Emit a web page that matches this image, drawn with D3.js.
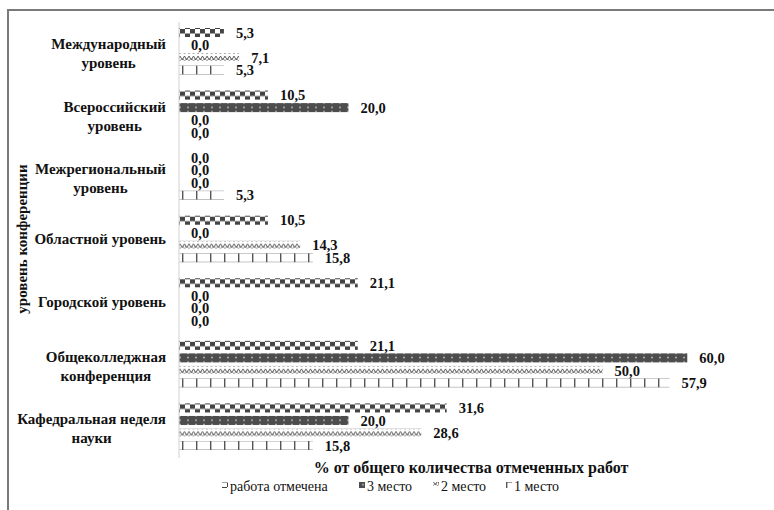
<!DOCTYPE html>
<html>
<head>
<meta charset="utf-8">
<script src="https://cdn.jsdelivr.net/npm/d3@7"></script>
<style>
  body { margin: 0; background: #fff; }
  svg text { font-family: "Liberation Serif", "Times New Roman", serif; fill: #111; }
</style>
</head>
<body>
<div id="chart"></div>
<script>
// Data
const categories = [
  ['Международный', 'уровень'],
  ['Всероссийский', 'уровень'],
  ['Межрегиональный', 'уровень'],
  ['Областной уровень'],
  ['Городской уровень'],
  ['Общеколледжная', 'конференция'],
  ['Кафедральная неделя', 'науки']
]
const seriesNames = ['работа отмечена', '3 место', '2 место', '1 место']
const noted  = [5.3, 10.5, 0.0, 10.5, 21.1, 21.1, 31.6]
const third  = [0.0, 20.0, 0.0, 0.0, 0.0, 60.0, 20.0]
const second = [7.1, 0.0, 0.0, 14.3, 0.0, 50.0, 28.6]
const first  = [5.3, 0.0, 5.3, 15.8, 0.0, 57.9, 15.8]
const xMax = 70

const values = [noted, third, second, first]
const catKeys = categories.map(c => c.join(' '))

// Canvas
const width = 774,
      height = 510,
      plotLeft = 179,
      plotRight = 772,
      plotTop = 20,
      plotBottom = 458

let svg = d3.select('#chart')
  .append('svg')
  .attr('width', width)
  .attr('height', height)

// patterns
let defs = svg.append('defs')

let p0 = defs.append('pattern').attr('id', 'pat0')
  .attr('patternUnits', 'userSpaceOnUse').attr('width', 10).attr('height', 9)
p0.append('rect').attr('width', 10).attr('height', 9).attr('fill', '#fff')
p0.append('rect').attr('x', 0).attr('y', 0).attr('width', 5).attr('height', 4.5).attr('fill', '#444')
p0.append('rect').attr('x', 5).attr('y', 4.5).attr('width', 5).attr('height', 4.5).attr('fill', '#444')

let p1 = defs.append('pattern').attr('id', 'pat1')
  .attr('patternUnits', 'userSpaceOnUse').attr('width', 8).attr('height', 4.5)
p1.append('rect').attr('width', 8).attr('height', 4.5).attr('fill', '#4d4d4d')
p1.append('circle').attr('cx', 4).attr('cy', 2.25).attr('r', 0.8).attr('fill', '#d0d0d0')

let p2 = defs.append('pattern').attr('id', 'pat2')
  .attr('patternUnits', 'userSpaceOnUse').attr('width', 9).attr('height', 7)
p2.append('rect').attr('width', 9).attr('height', 7).attr('fill', '#fff')
p2.append('path').attr('d', 'M0,1 L2.25,5 L4.5,1 L6.75,5 L9,1').attr('fill', 'none')
  .attr('stroke', '#5a5a5a').attr('stroke-width', 1)
p2.append('path').attr('d', 'M0,6 L2.25,3 L4.5,6 L6.75,3 L9,6').attr('fill', 'none')
  .attr('stroke', '#888').attr('stroke-width', 0.8)

let p3 = defs.append('pattern').attr('id', 'pat3')
  .attr('patternUnits', 'userSpaceOnUse').attr('width', 14).attr('height', 10)
p3.append('rect').attr('width', 14).attr('height', 10).attr('fill', '#fff')
p3.append('rect').attr('x', 0).attr('y', 0).attr('width', 1.4).attr('height', 10).attr('fill', '#555')
p3.append('rect').attr('x', 0).attr('y', 4.4).attr('width', 14).attr('height', 1.2).attr('fill', '#555')

// frame
svg.append('rect')
  .attr('x', 8).attr('y', 10)
  .attr('width', 900).attr('height', 700)
  .attr('fill', 'none')
  .attr('stroke', '#7a7a7a')
  .attr('stroke-width', 2)

// Scales
let x = d3.scaleLinear()
  .domain([0, xMax])
  .range([plotLeft, plotRight])

let y0 = d3.scaleBand()
  .domain(catKeys)
  .range([plotTop, plotBottom])

let y1 = d3.scaleBand()
  .domain(seriesNames)
  .range([0, y0.bandwidth()])
  .paddingInner(0.28)
  .paddingOuter(0.64)

let fmt = v => d3.format('.1f')(v).replace('.', ',')

// Bars
let groups = svg.selectAll('g.cat')
  .data(catKeys)
  .enter()
  .append('g')
  .attr('class', 'cat')
  .attr('transform', d => `translate(0, ${ y0(d) })`)

let cells = (d, i) => seriesNames.map((s, j) => ({ s: s, j: j, v: values[j][i] }))

groups.selectAll('rect')
  .data(cells)
  .enter()
  .append('rect')
  .attr('x', x(0))
  .attr('y', d => y1(d.s))
  .attr('width', d => x(d.v) - x(0))
  .attr('height', y1.bandwidth())
  .attr('fill', d => `url(#pat${ d.j })`)

groups.selectAll('text.val')
  .data(cells)
  .enter()
  .append('text')
  .attr('class', 'val')
  .attr('x', d => x(d.v) + 12)
  .attr('y', d => y1(d.s) + y1.bandwidth() / 2)
  .attr('dy', '0.36em')
  .style('font-size', '14.5px')
  .style('font-weight', 'bold')
  .text(d => fmt(d.v))

// axis line
svg.append('line')
  .attr('x1', x(0)).attr('x2', x(0))
  .attr('y1', plotTop + 2).attr('y2', plotBottom)
  .attr('stroke', '#d9d9d9')
  .attr('stroke-width', 1.2)

// category labels
const lineH = 19
categories.forEach((lines, i) => {
  let g = svg.append('g')
  let cy = y0(catKeys[i]) + y0.bandwidth() / 2 + (lines.length > 1 ? 2 : 0)
  let texts = lines.map((ln, k) => g.append('text')
    .attr('y', cy + (k - (lines.length - 1) / 2) * lineH)
    .attr('dy', '0.35em')
    .attr('text-anchor', 'middle')
    .style('font-size', '15px')
    .style('font-weight', 'bold')
    .text(ln))
  let maxW = d3.max(texts, t => t.node().getComputedTextLength())
  texts.forEach(t => t.attr('x', 166 - maxW / 2))
})

// axis titles
svg.append('text')
  .attr('transform', `translate(22, ${ (plotTop + plotBottom) / 2 }) rotate(-90)`)
  .attr('text-anchor', 'middle')
  .attr('dy', '0.35em')
  .style('font-size', '15px')
  .style('font-weight', 'bold')
  .text('уровень конференции')

svg.append('text')
  .attr('x', 471)
  .attr('y', 467)
  .attr('dy', '0.35em')
  .attr('text-anchor', 'middle')
  .style('font-size', '16px')
  .style('font-weight', 'bold')
  .text('% от общего количества отмеченных работ')

// legend
const legendX = [222, 359, 433, 506]
let legend = svg.selectAll('g.legend')
  .data(seriesNames)
  .enter()
  .append('g')
  .attr('class', 'legend')
  .attr('transform', (d, i) => `translate(${ legendX[i] }, 487)`)

legend.append('rect')
  .attr('x', 0).attr('y', -5)
  .attr('width', 6).attr('height', 6)
  .attr('fill', (d, i) => `url(#pat${ i })`)

legend.append('text')
  .attr('x', 8)
  .attr('y', 0)
  .attr('dy', '0.3em')
  .style('font-size', '14px')
  .text(d => d)
</script>
</body>
</html>
